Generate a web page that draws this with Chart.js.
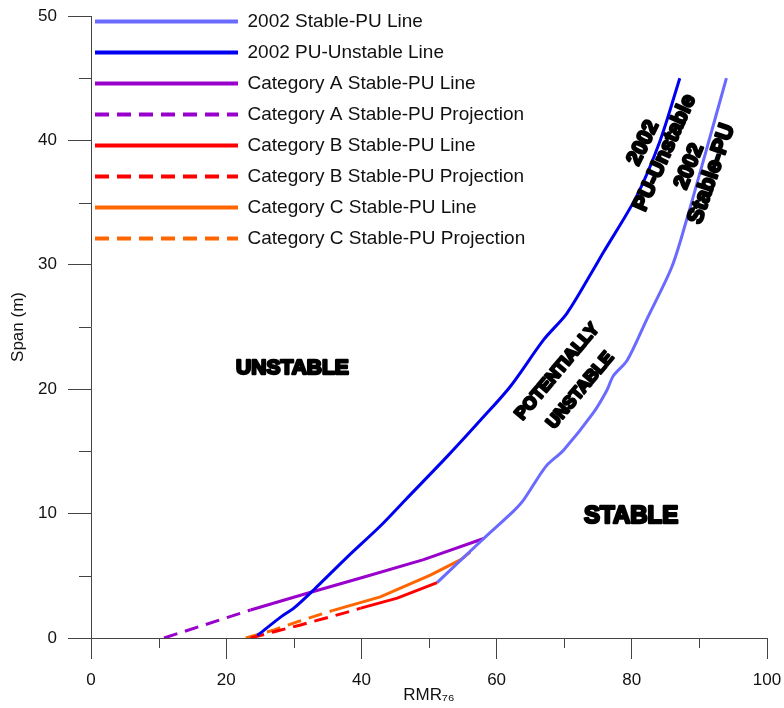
<!DOCTYPE html>
<html>
<head>
<meta charset="utf-8">
<script src="https://cdn.jsdelivr.net/npm/chart.js@4/dist/chart.umd.min.js"></script>
<style>
  html, body { margin: 0; padding: 0; background: #fff; }
  #wrap { width: 784px; height: 708px; }
</style>
</head>
<body>
<div id="wrap"><canvas id="spanChart"></canvas></div>
<script>
// values: RMR76 (x) vs span in m (y)
const stablePuX = [51.2, 57.9, 62.5, 64, 67.3, 69.9, 74.3, 76.3, 77.3, 79.3, 82.2, 85.9, 88.1, 90.6, 94];
const stablePuY = [4.45, 7.9, 10.2, 11.1, 13.8, 15.1, 18.1, 19.9, 21.1, 22.3, 25.6, 29.8, 33.6, 38.4, 45];

const puUnstableX = [24.6, 28.1, 30, 33, 37.9, 42.8, 46.5, 52.7, 57.6, 62, 67, 70.4, 74.3, 75.8, 80.7, 84.2, 87.1];
const puUnstableY = [0.2, 1.7, 2.4, 3.9, 6.5, 9.0, 11.1, 14.6, 17.5, 20.2, 24, 26.1, 29.6, 31, 35.5, 40, 45];

const catALineX = [23.6, 32, 40.4, 49.2, 58.1];
const catALineY = [2.25, 3.6, 4.9, 6.3, 8.0];
const catAProjX = [10.8, 23.6];
const catAProjY = [0, 2.25];

const catBLineX = [39.9, 45.3, 51.2];
const catBLineY = [2.4, 3.2, 4.45];
const catBProjX = [23.6, 27.1, 31, 37.4, 39.9];
const catBProjY = [0, 0.5, 1.05, 2.0, 2.4];

const catCLineX = [35.7, 42.8, 50.2, 54.7, 56.1];
const catCLineY = [2.2, 3.3, 5.06, 6.3, 6.9];
const catCProjX = [22.9, 27.1, 30.5, 35.7];
const catCProjY = [0, 0.65, 1.3, 2.2];

const xMinorTicks = [10, 30, 50, 70, 90];
const yMinorTicks = [5, 15, 25, 35, 45];

const pts = (xs, ys) => xs.map((x, i) => ({ x: x, y: ys[i] }));

const FONT = '"Liberation Sans", Arial, sans-serif';
const DASH = [14, 8];

function series(label, xs, ys, color, dashed, tension) {
  return {
    label: label,
    data: pts(xs, ys),
    showLine: true,
    borderColor: color,
    backgroundColor: color,
    borderWidth: 3,
    borderDash: dashed ? DASH : [],
    pointRadius: 0,
    tension: tension || 0
  };
}

// bold region labels, placed in data coordinates
const regionLabels = [
  { text: 'UNSTABLE', x: 29.8, y: 21.7, angle: 0, size: 21 },
  { text: 'STABLE', x: 79.9, y: 9.8, angle: 0, size: 24 },
  { text: 'POTENTIALLY', x: 69.0, y: 21.4, angle: -50, size: 17.5 },
  { text: 'UNSTABLE', x: 72.4, y: 19.9, angle: -50, size: 17.5 },
  { text: '2002', x: 81.7, y: 39.8, angle: -64, size: 21 },
  { text: 'PU-Unstable', x: 84.9, y: 39.0, angle: -66, size: 21 },
  { text: '2002', x: 88.5, y: 37.9, angle: -68, size: 21 },
  { text: 'Stable-PU', x: 91.8, y: 37.3, angle: -71, size: 22 }
];

const extrasPlugin = {
  id: 'extras',
  afterLayout(chart) {
    // pull the legend up into the top-left corner of the plot
    const lg = chart.legend;
    lg.left = chart.chartArea.left - 8;
    lg.top = 0;
  },
  afterDraw(chart) {
    const ctx = chart.ctx;
    const xs = chart.scales.x, ys = chart.scales.y;
    const area = chart.chartArea;
    ctx.save();
    // minor ticks
    ctx.strokeStyle = '#444';
    ctx.lineWidth = 1;
    ctx.beginPath();
    xMinorTicks.forEach(v => {
      const px = Math.round(xs.getPixelForValue(v)) + 0.5;
      ctx.moveTo(px, area.bottom);
      ctx.lineTo(px, area.bottom + 10);
    });
    yMinorTicks.forEach(v => {
      const py = Math.round(ys.getPixelForValue(v)) + 0.5;
      ctx.moveTo(area.left, py);
      ctx.lineTo(area.left - 12, py);
    });
    ctx.stroke();

    // region labels
    ctx.fillStyle = '#000';
    ctx.strokeStyle = '#000';
    ctx.lineWidth = 2.4;
    ctx.lineJoin = 'round';
    ctx.textAlign = 'center';
    ctx.textBaseline = 'middle';
    regionLabels.forEach(l => {
      ctx.save();
      ctx.translate(xs.getPixelForValue(l.x), ys.getPixelForValue(l.y));
      ctx.rotate(l.angle * Math.PI / 180);
      ctx.font = 'bold ' + l.size + 'px ' + FONT;
      ctx.strokeText(l.text, 0, 0);
      ctx.fillText(l.text, 0, 0);
      ctx.restore();
    });
    ctx.restore();
  }
};

new Chart(document.getElementById('spanChart'), {
  type: 'scatter',
  data: {
    datasets: [
      series('2002 Stable-PU Line', stablePuX, stablePuY, '#6a6aff', false, 0.3),
      series('2002 PU-Unstable Line', puUnstableX, puUnstableY, '#0000f0', false, 0.3),
      series('Category A Stable-PU Line', catALineX, catALineY, '#9a00cc', false),
      series('Category A Stable-PU Projection', catAProjX, catAProjY, '#9a00cc', true),
      series('Category B Stable-PU Line', catBLineX, catBLineY, '#ff0000', false),
      series('Category B Stable-PU Projection', catBProjX, catBProjY, '#ff0000', true),
      series('Category C Stable-PU Line', catCLineX, catCLineY, '#ff6600', false),
      series('Category C Stable-PU Projection', catCProjX, catCProjY, '#ff6600', true)
    ]
  },
  options: {
    responsive: true,
    maintainAspectRatio: false,
    animation: false,
    layout: { padding: { top: 16, right: 17, left: 0, bottom: 0 } },
    plugins: {
      tooltip: { enabled: false },
      legend: {
        position: 'chartArea',
        align: 'start',
        labels: {
          usePointStyle: true,
          pointStyle: 'line',
          pointStyleWidth: 143,
          padding: 12,
          color: '#111',
          font: { family: FONT, size: 19 },
          generateLabels(chart) {
            const items = Chart.defaults.plugins.legend.labels.generateLabels(chart);
            items.forEach(it => {
              const ds = chart.data.datasets[it.datasetIndex];
              it.lineWidth = 4;
              it.pointStyle = 'line';
              it.strokeStyle = ds.borderColor;
              it.lineDash = ds.borderDash;
            });
            return items;
          }
        }
      }
    },
    scales: {
      x: {
        type: 'linear',
        min: 0,
        max: 100,
        ticks: { stepSize: 20, color: '#111', padding: 11, font: { family: FONT, size: 17 } },
        grid: { drawOnChartArea: false, tickLength: 21, color: '#444' },
        border: { color: '#444' },
        title: { display: true, text: 'RMR₇₆', color: '#111', padding: { top: 0, bottom: 2 }, font: { family: FONT, size: 17 } },
        afterFit(s) { s.height = 70; s.paddingLeft = 0; s.paddingRight = 0; }
      },
      y: {
        type: 'linear',
        min: 0,
        max: 50,
        ticks: { stepSize: 10, color: '#111', padding: 11, font: { family: FONT, size: 17 } },
        grid: { drawOnChartArea: false, tickLength: 23, color: '#444' },
        border: { color: '#444' },
        title: { display: true, text: 'Span (m)', color: '#111', padding: { top: 8 }, font: { family: FONT, size: 17 } },
        afterFit(s) { s.width = 91; s.paddingTop = 0; s.paddingBottom = 0; }
      }
    }
  },
  plugins: [extrasPlugin]
});
</script>
</body>
</html>
